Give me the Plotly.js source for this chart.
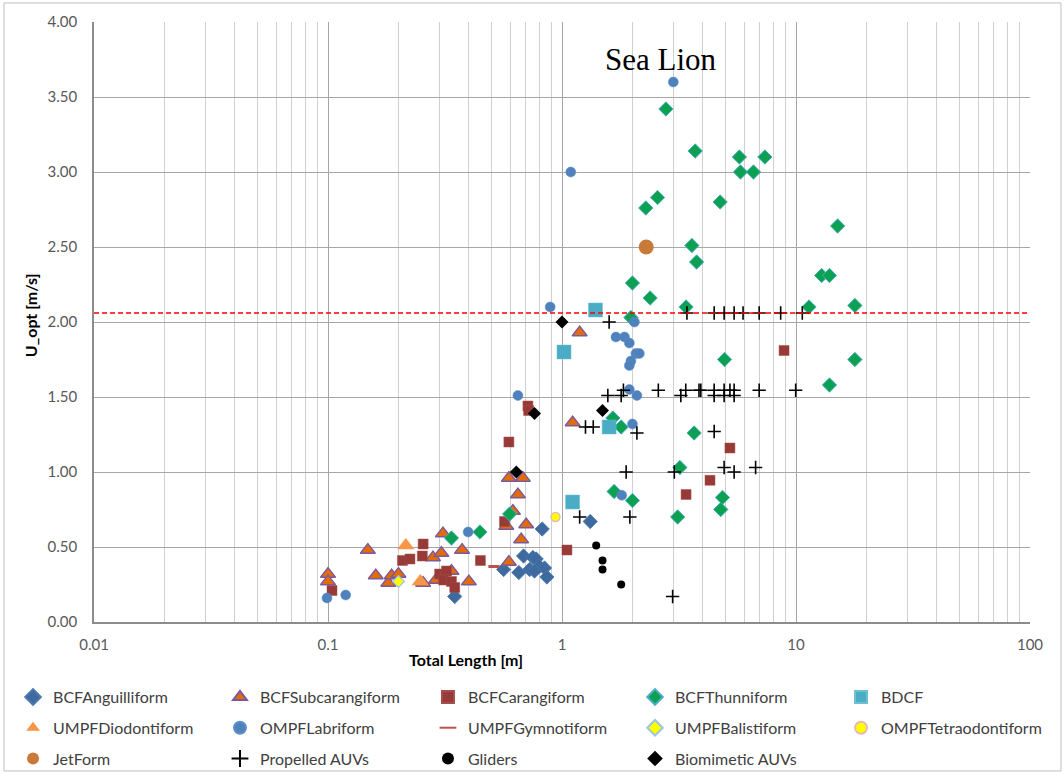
<!DOCTYPE html>
<html>
<head>
<meta charset="utf-8">
<script src="https://cdn.plot.ly/plotly-3.0.1.min.js"></script>
<style>
  html, body { margin: 0; padding: 0; background: #ffffff; }
  #chart { width: 1064px; height: 774px; }
</style>
</head>
<body>
<div id="chart"></div>
<script>
// Total length [m] (x) and optimal swimming speed U_opt [m/s] (y) per group
const anguilliformX = [0.348, 0.823, 1.32, 0.563, 0.654, 0.685, 0.751, 0.776, 0.727, 0.80, 0.842, 0.862, 0.763];
const anguilliformY = [0.17, 0.62, 0.67, 0.35, 0.33, 0.44, 0.43, 0.42, 0.35, 0.37, 0.36, 0.30, 0.34];

const subcarangiformX = [0.1, 0.1, 0.148, 0.160, 0.181, 0.187, 0.20, 0.255, 0.281, 0.305, 0.31, 0.289, 0.337,
  0.374, 0.40, 0.593, 0.593, 0.68, 0.648, 0.617, 0.578, 0.703, 0.669, 1.19, 1.11];
const subcarangiformY = [0.32, 0.27, 0.48, 0.31, 0.26, 0.31, 0.32, 0.26, 0.43, 0.46, 0.59, 0.28, 0.34,
  0.48, 0.27, 0.40, 0.96, 0.96, 0.85, 0.74, 0.64, 0.65, 0.55, 1.93, 1.33];

const carangiformX = [0.104, 0.255, 0.253, 0.208, 0.224, 0.30, 0.321, 0.312, 0.337, 0.348, 0.448, 0.568,
  1.05, 0.593, 0.715, 0.72, 3.39, 4.29, 5.22, 8.89];
const carangiformY = [0.21, 0.52, 0.44, 0.41, 0.42, 0.32, 0.34, 0.28, 0.27, 0.23, 0.41, 0.67,
  0.48, 1.20, 1.44, 1.41, 0.85, 0.945, 1.16, 1.81];

const thunniformX = [2.78, 3.71, 5.73, 7.36, 5.79, 6.58, 2.56, 2.28, 4.74, 15.06, 3.59, 3.76, 2.00, 2.38,
  12.87, 13.9, 3.39, 11.36, 17.85, 1.97, 4.95, 17.85, 13.9, 3.67, 3.19, 4.85, 4.77, 3.12, 1.65, 1.79,
  1.67, 2.00, 0.597, 0.337, 0.446];
const thunniformY = [3.42, 3.14, 3.10, 3.10, 3.00, 3.00, 2.83, 2.76, 2.80, 2.64, 2.51, 2.40, 2.26, 2.16,
  2.31, 2.31, 2.10, 2.10, 2.11, 2.03, 1.75, 1.75, 1.58, 1.26, 1.03, 0.83, 0.75, 0.70, 1.36, 1.30,
  0.87, 0.81, 0.72, 0.56, 0.60];

const bdcfX = [1.39, 1.02, 1.59, 1.11];
const bdcfY = [2.08, 1.80, 1.30, 0.80];

const diodontiformX = [0.215, 0.248];
const diodontiformY = [0.51, 0.27];

const labriformX = [2.99, 1.09, 0.89, 2.04, 1.70, 1.85, 1.94, 2.07, 2.14, 1.97, 1.94, 0.648, 1.94, 2.09,
  2.00, 1.80, 0.397, 0.099, 0.119];
const labriformY = [3.60, 3.00, 2.10, 2.00, 1.90, 1.90, 1.86, 1.79, 1.79, 1.74, 1.71, 1.51, 1.55, 1.51,
  1.32, 0.845, 0.60, 0.16, 0.18];

const gymnotiformX = [0.512];
const gymnotiformY = [0.37];

const balistiformX = [0.20];
const balistiformY = [0.27];

const tetraodontiformX = [0.938];
const tetraodontiformY = [0.70];

const jetFormX = [2.29];
const jetFormY = [2.50];

const propelledX = [1.59, 3.42, 4.47, 4.93, 5.44, 5.94, 6.96, 8.60, 10.64, 1.57, 1.79, 1.83, 2.58, 3.22,
  3.38, 3.85, 3.92, 4.47, 4.47, 4.93, 4.93, 5.22, 5.44, 5.44, 6.96, 9.97, 1.26, 1.36, 2.09, 4.47, 1.88,
  3.02, 4.93, 5.44, 6.72, 1.19, 1.95, 2.97];
const propelledY = [2.00, 2.06, 2.06, 2.06, 2.06, 2.06, 2.06, 2.06, 2.06, 1.51, 1.51, 1.545, 1.545, 1.51,
  1.545, 1.545, 1.545, 1.545, 1.51, 1.545, 1.51, 1.545, 1.51, 1.545, 1.545, 1.545, 1.30, 1.30, 1.26, 1.27, 1.00,
  1.00, 1.03, 1.00, 1.03, 0.70, 0.70, 0.17];

const glidersX = [1.40, 1.49, 1.49, 1.79];
const glidersY = [0.51, 0.41, 0.35, 0.25];

const biomimeticX = [1.00, 0.763, 1.49, 0.638];
const biomimeticY = [2.00, 1.39, 1.41, 1.00];

// Reference speed of the sea lion
const seaLionSpeed = 2.06;
const seaLionLabel = 'Sea Lion';

const xTickVals = [0.01, 0.1, 1, 10, 100];
const xTickText = ['0.01', '0.1', '1', '10', '100'];
const yTickVals = [0, 0.5, 1, 1.5, 2, 2.5, 3, 3.5, 4];

// minor grid lines at 2..9 within each decade
const minorVals = [];
for (let d = -2; d < 2; d++) {
  for (let k = 2; k <= 9; k++) minorVals.push(k * Math.pow(10, d));
}

// legend columns (five columns laid out under the axis)
const legendCols = ['legend', 'legend2', 'legend3', 'legend4', 'legend5'];
const legendColX = [-0.0865, 0.1346, 0.3568, 0.5780, 0.7981];

function series(name, x, y, col, marker) {
  return {
    type: 'scatter', mode: 'markers', name, x, y,
    legend: legendCols[col], legendgroup: name, marker, hoverinfo: 'x+y+name'
  };
}

const traces = [
  series('BCFAnguilliform', anguilliformX, anguilliformY, 0,
    { symbol: 'diamond', size: 11, color: '#3E6A9F', line: { color: '#4A78AE', width: 0.8 } }),
  series('BCFSubcarangiform', subcarangiformX, subcarangiformY, 1,
    { symbol: 'triangle-up', size: 13, color: '#E26B0A', line: { color: '#7A5A9E', width: 1.3 } }),
  series('BCFCarangiform', carangiformX, carangiformY, 2,
    { symbol: 'square', size: 10, color: '#973A38', line: { color: '#A3504D', width: 0.5 } }),
  series('BCFThunniform', thunniformX, thunniformY, 3,
    { symbol: 'diamond', size: 11, color: '#0BA150', line: { color: '#4BACC6', width: 1 } }),
  series('BDCF', bdcfX, bdcfY, 4,
    { symbol: 'square', size: 14, color: '#4BACC6', line: { color: '#6FBFD4', width: 0.5 } }),
  series('UMPFDiodontiform', diodontiformX, diodontiformY, 0,
    { symbol: 'triangle-up', size: 15, color: '#F79646', line: { width: 0 } }),
  series('OMPFLabriform', labriformX, labriformY, 1,
    { symbol: 'circle', size: 10, color: '#4F81BD', line: { color: '#5F8FC7', width: 0.5 } }),
  series('UMPFGymnotiform', gymnotiformX, gymnotiformY, 2,
    { symbol: 'line-ew', size: 8, color: '#C0504D', line: { color: '#C0504D', width: 3 } }),
  series('UMPFBalistiform', balistiformX, balistiformY, 3,
    { symbol: 'diamond', size: 9, color: '#FFFF00', line: { color: '#9DC3E6', width: 1.2 } }),
  series('OMPFTetraodontiform', tetraodontiformX, tetraodontiformY, 4,
    { symbol: 'circle', size: 9, color: '#FFFF00', line: { color: '#E6B9B8', width: 1.5 } }),
  series('JetForm', jetFormX, jetFormY, 0,
    { symbol: 'circle', size: 15, color: '#C97A38', line: { width: 0 } }),
  series('Propelled AUVs', propelledX, propelledY, 1,
    { symbol: 'cross-thin', size: 9.5, color: '#000000', line: { color: '#000000', width: 1.6 } }),
  series('Gliders', glidersX, glidersY, 2,
    { symbol: 'circle', size: 8, color: '#000000', line: { width: 0 } }),
  series('Biomimetic AUVs', biomimeticX, biomimeticY, 3,
    { symbol: 'diamond', size: 10, color: '#000000', line: { width: 0 } })
];

const fontFamily = 'Lato, "Open Sans", sans-serif';

const layout = {
  width: 1064,
  height: 774,
  margin: { l: 94, r: 34, t: 22, b: 152, autoexpand: false },
  paper_bgcolor: '#ffffff',
  plot_bgcolor: '#ffffff',
  font: { family: fontFamily, color: '#595959' },
  showlegend: true,
  xaxis: {
    type: 'log',
    range: [-2, 2],
    tickmode: 'array',
    tickvals: xTickVals,
    ticktext: xTickText,
    tickfont: { family: fontFamily, size: 15, color: '#595959' },
    ticks: '',
    ticklabelstandoff: 8,
    showgrid: true,
    gridcolor: '#A6A6A6',
    gridwidth: 1,
    minor: { tickvals: minorVals, showgrid: true, gridcolor: '#D0D0D0', gridwidth: 1, ticks: '' },
    showline: true,
    linecolor: '#8C8C8C',
    linewidth: 1.5,
    zeroline: false,
    fixedrange: true
  },
  yaxis: {
    range: [0, 4],
    tickmode: 'array',
    tickvals: yTickVals,
    tickformat: '.2f',
    tickfont: { family: fontFamily, size: 15, color: '#595959' },
    ticks: '',
    ticklabelstandoff: 12,
    showgrid: true,
    gridcolor: '#A6A6A6',
    gridwidth: 1,
    showline: true,
    linecolor: '#8C8C8C',
    linewidth: 1.5,
    zeroline: false,
    fixedrange: true
  },
  shapes: [
    {
      type: 'line', xref: 'paper', x0: 0, x1: 1, yref: 'y', y0: seaLionSpeed, y1: seaLionSpeed,
      line: { color: '#FF0000', width: 1.5, dash: '5px,3px' }, layer: 'above'
    },
    {
      // outer chart frame
      type: 'rect', xref: 'paper', yref: 'paper',
      x0: -0.0962, x1: 1.0331, y0: -0.2483, y1: 1.0317,
      line: { color: '#BFBFBF', width: 1 }, fillcolor: 'rgba(0,0,0,0)', layer: 'below'
    }
  ],
  annotations: [
    {
      text: seaLionLabel, xref: 'x', yref: 'y', x: Math.log10(2.65), y: 3.75,
      showarrow: false, font: { family: '"Liberation Serif", "Times New Roman", serif', size: 31, color: '#000000' }
    },
    {
      text: '<b>Total Length [m]</b>', xref: 'paper', yref: 'paper', x: 0.397, y: -0.063,
      xanchor: 'center', yanchor: 'middle',
      showarrow: false, font: { family: fontFamily, size: 16, color: '#000000' }
    },
    {
      text: '<b>U_opt [m/s]</b>', xref: 'paper', yref: 'paper', x: -0.068, y: 0.512,
      xanchor: 'center', yanchor: 'middle',
      textangle: -90, showarrow: false, font: { family: fontFamily, size: 16, color: '#000000' }
    }
  ]
};

legendCols.forEach((id, i) => {
  layout[id] = {
    orientation: 'v',
    xanchor: 'left',
    yanchor: 'top',
    x: legendColX[i],
    y: -0.0967,
    tracegroupgap: 7,
    itemsizing: 'constant',
    bgcolor: 'rgba(0,0,0,0)',
    font: { family: fontFamily, size: 16, color: '#404040' },
    traceorder: 'grouped',
    itemclick: false,
    itemdoubleclick: false
  };
});

Plotly.newPlot('chart', traces, layout, { displayModeBar: false });
</script>
</body>
</html>
